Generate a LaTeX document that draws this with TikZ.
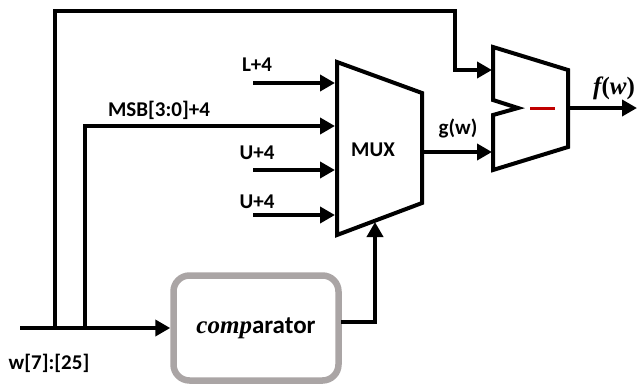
\documentclass[tikz,border=0pt]{standalone}
\usepackage{fontspec}
\setsansfont{Carlito}
\newfontfamily\mathfnt{Liberation Serif}
\usetikzlibrary{arrows.meta}
\definecolor{minusred}{RGB}{192,0,0}
\definecolor{boxgray}{RGB}{170,165,165}
\newcommand{\bmath}[1]{{\mathfnt\bfseries\itshape #1}}
\begin{document}
\begin{tikzpicture}[x=1pt,y=-1pt]
                \tikzset{
                    wire/.style={line width=4pt, line join=miter},
                    arw/.style={wire, -{Triangle[length=15pt,width=16pt]}},
                    lbl/.style={font=\sffamily\bfseries\fontsize{21}{25}\selectfont, inner sep=0pt},
                    biglbl/.style={lbl, font=\sffamily\bfseries\fontsize{25}{30}\selectfont},
                    block/.style={line width=4pt, line join=miter},
                    cmpbox/.style={draw=boxgray, line width=6.5pt, rounded corners=16pt,
                        minimum width=165pt, minimum height=105pt, inner sep=0pt}
                }
                \useasboundingbox (0,0) rectangle (639,386);

                % MUX and subtractor
                \draw[block] (337,62) -- (422,93) -- (422,203) -- (337,235) -- cycle;
                \draw node[lbl] (mux) at (373,150) {MUX};
                \draw[block] (493,47) -- (568,70) -- (568,147) -- (493,170) -- (493,115)
                    -- (518,108) -- (493,100) -- cycle;
                \draw[line width=3pt, minusred] (530,108) -- (555,108);

                % comparator
                \draw node[cmpbox, biglbl] (cmp) at (256,328) {\bmath{comp}arator};

                % ports
                \coordinate (win) at (20,328);
                \coordinate (tap1) at (55,328);
                \coordinate (tap2) at (85,328);
                \coordinate (topturn) at (455,11);
                \coordinate (subin1) at (492,70);
                \coordinate (subin2) at (492,152);
                \coordinate (subout) at (568,108);
                \coordinate (fout) at (637,108);
                \coordinate (muxmsb) at (335,126);
                \coordinate (muxout) at (422,152);
                \coordinate (muxsel) at (375,222);
                \coordinate (cmpout) at (341,322);

                \foreach \y/\n/\t/\ly in {%
                    83/l4/L+4/65, 170/ua/U+4/153, 215/ub/U+4/202%
                }{
                \coordinate (\n) at (253,\y);
                \coordinate (\n-in) at (335,\y);
                \draw node[lbl] (lbl-\n) at (257,\ly) {\t};
                \draw[arw] (\n) -- (\n-in);
                }

                \draw[arw] (win) -- (cmp);
                \draw[arw] (tap1) |- (topturn) |- (subin1);
                \draw[arw] (tap2) |- (muxmsb);
                \draw[arw] (cmpout) -| (muxsel);
                \draw[arw] (muxout) -- (subin2);
                \draw[arw] (subout) -- (fout);

                \draw node[lbl] (lbl-msb) at (159,110) {MSB[3:0]+4};
                \draw node[lbl] (lbl-g) at (458,128) {g(w)};
                \draw node[biglbl] (lbl-f) at (614,88) {\bmath{f}{\mathfnt(}\bmath{w}{\mathfnt)}};
                \draw node[lbl] (lbl-w) at (49,363) {w[7]:[25]};
            \end{tikzpicture}
\end{document}
